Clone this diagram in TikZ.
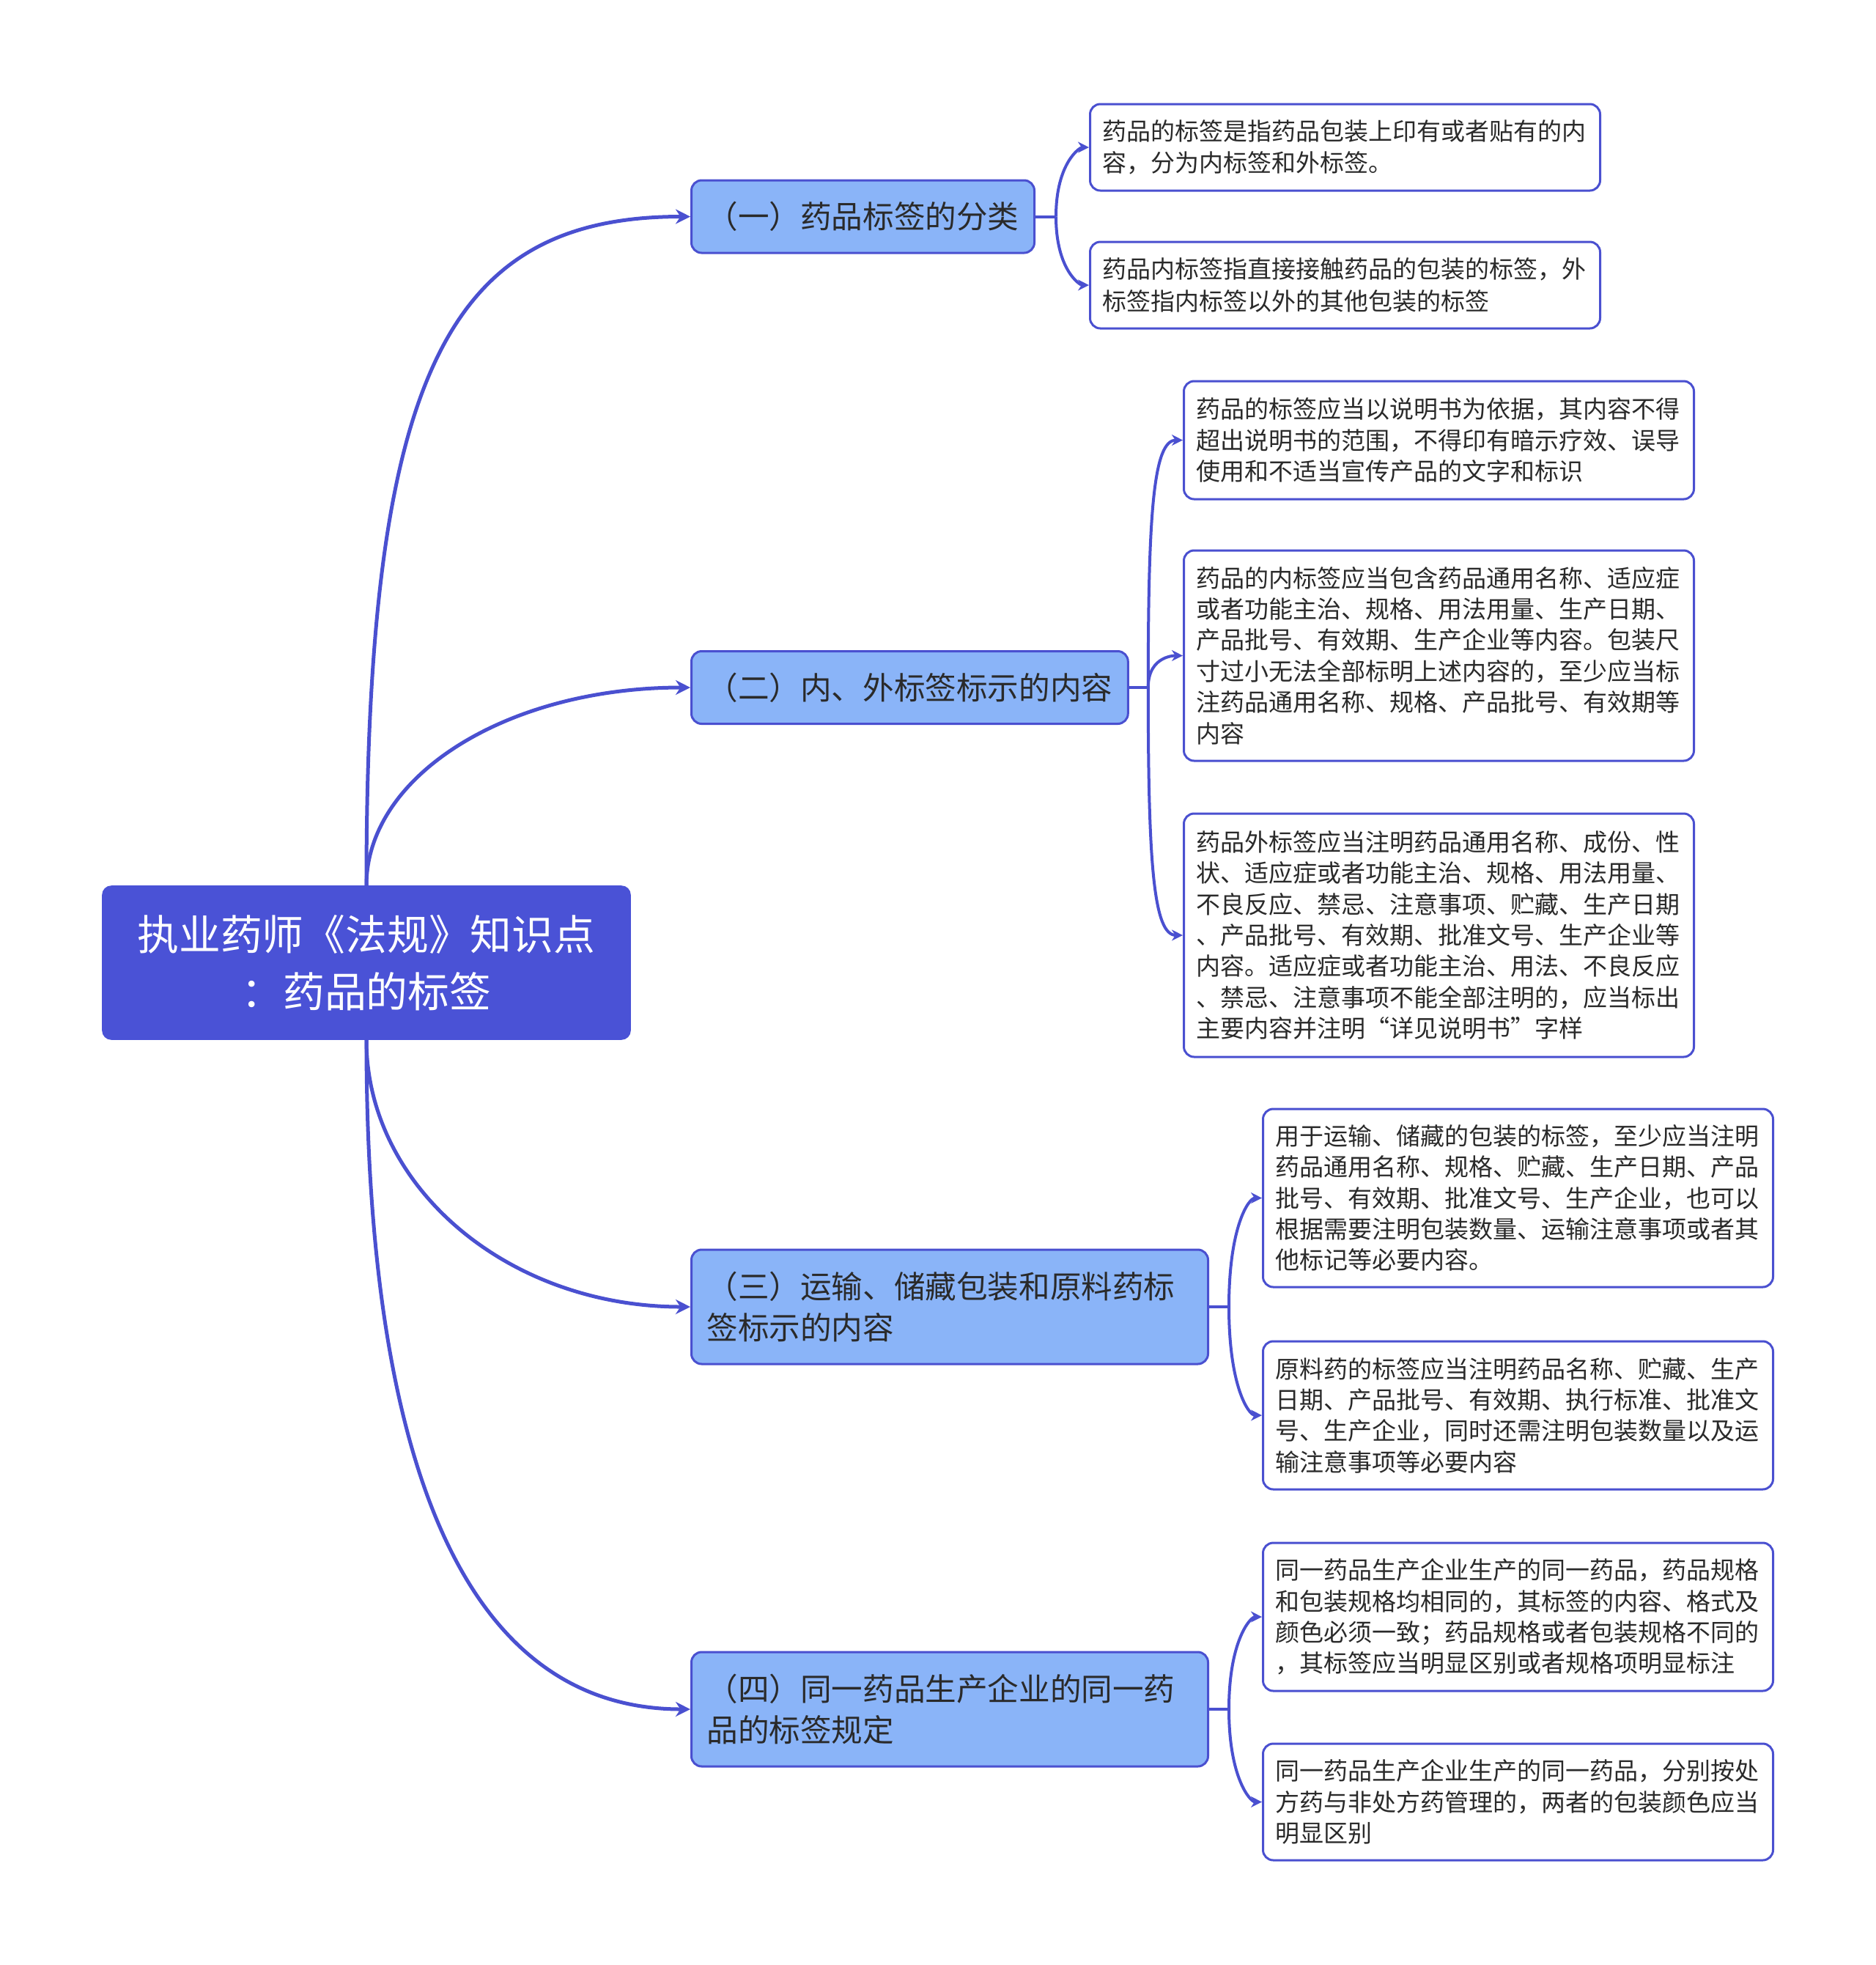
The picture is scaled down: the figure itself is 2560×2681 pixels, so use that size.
\documentclass[tikz,border=0pt]{standalone}
\usepackage{fontspec}
\setmainfont{Noto Sans CJK SC}
\usetikzlibrary{arrows.meta}
\definecolor{rootblue}{HTML}{4A52D6}
\definecolor{topicblue}{HTML}{8AB4F8}
\definecolor{edgeblue}{HTML}{4A50D0}
\definecolor{textgray}{HTML}{2A2A2A}

\begin{document}
\begin{tikzpicture}[
    x=0.25pt, y=-0.25pt,
    rootbox/.style={fill=rootblue, draw=rootblue, rounded corners=3pt, text=white, align=center,
      minimum width=180pt, minimum height=52.25pt, font=\fontsize{14.2}{19.5}\selectfont},
    topic/.style={fill=topicblue, draw=edgeblue, line width=0.75pt, rounded corners=3.5pt, text=textgray,
      anchor=west, inner xsep=5.25pt, minimum height=24.75pt, font=\fontsize{10.65}{14.2}\selectfont},
    longtopic/.style={topic, align=left, text width=165.75pt, minimum height=39pt},
    leaf/.style={fill=white, draw=edgeblue, line width=0.75pt, rounded corners=3.5pt, text=textgray,
      anchor=west, align=left, text width=165.5pt, inner xsep=4.25pt, font=\fontsize{8.25}{10.6}\selectfont},
    branch/.style={draw=edgeblue, line width=1.25pt, -{Stealth[length=5pt,width=5pt]}},
    link/.style={draw=edgeblue, line width=1pt},
    leafarrow/.style={link, -{Stealth[length=3.75pt,width=3.75pt]}, out looseness=1.8, in looseness=0.3}
  ]
    \useasboundingbox (0,0) rectangle (2560,2681);

    % centre topic
    \node[rootbox] (root) at (500,1313.5) {执业药师《法规》知识点\\：药品的标签};

    % main branches
    \node[topic] (kinds) at (942,295.5) {（一）药品标签的分类};
    \node[topic] (content) at (942,938) {（二）内、外标签标示的内容};
    \node[longtopic] (transport) at (942,1783) {（三）运输、储藏包装和原料药标\\签标示的内容};
    \node[longtopic] (same) at (942,2332) {（四）同一药品生产企业的同一药\\品的标签规定};

    % details
    \node[leaf, minimum height=29.5pt, font=\fontsize{8.25}{10.8}\selectfont] (kinds1) at (1486,201)
      {药品的标签是指药品包装上印有或者贴有的内\\容，分为内标签和外标签。};
    \node[leaf, minimum height=29.5pt, font=\fontsize{8.25}{10.8}\selectfont] (kinds2) at (1486,389)
      {药品内标签指直接接触药品的包装的标签，外\\标签指内标签以外的其他包装的标签};

    \node[leaf, minimum height=40.25pt] (content1) at (1614,600.5)
      {药品的标签应当以说明书为依据，其内容不得\\超出说明书的范围，不得印有暗示疗效、误导\\使用和不适当宣传产品的文字和标识};
    \node[leaf, minimum height=71.75pt] (content2) at (1614,894.5)
      {药品的内标签应当包含药品通用名称、适应症\\或者功能主治、规格、用法用量、生产日期、\\产品批号、有效期、生产企业等内容。包装尺\\寸过小无法全部标明上述内容的，至少应当标\\注药品通用名称、规格、产品批号、有效期等\\内容};
    \node[leaf, minimum height=83pt] (content3) at (1614,1276)
      {药品外标签应当注明药品通用名称、成份、性\\状、适应症或者功能主治、规格、用法用量、\\不良反应、禁忌、注意事项、贮藏、生产日期\\、产品批号、有效期、批准文号、生产企业等\\内容。适应症或者功能主治、用法、不良反应\\、禁忌、注意事项不能全部注明的，应当标出\\主要内容并注明“详见说明书”字样};

    \node[leaf, minimum height=60.75pt] (transport1) at (1722,1634.5)
      {用于运输、储藏的包装的标签，至少应当注明\\药品通用名称、规格、贮藏、生产日期、产品\\批号、有效期、批准文号、生产企业，也可以\\根据需要注明包装数量、运输注意事项或者其\\他标记等必要内容。};
    \node[leaf, minimum height=50.5pt] (transport2) at (1722,1931)
      {原料药的标签应当注明药品名称、贮藏、生产\\日期、产品批号、有效期、执行标准、批准文\\号、生产企业，同时还需注明包装数量以及运\\输注意事项等必要内容};

    \node[leaf, minimum height=50.5pt] (same1) at (1722,2206)
      {同一药品生产企业生产的同一药品，药品规格\\和包装规格均相同的，其标签的内容、格式及\\颜色必须一致；药品规格或者包装规格不同的\\，其标签应当明显区别或者规格项明显标注};
    \node[leaf, minimum height=39.75pt] (same2) at (1722,2458.5)
      {同一药品生产企业生产的同一药品，分别按处\\方药与非处方药管理的，两者的包装颜色应当\\明显区别};

    % root to branches
    \draw[branch] (root.north) .. controls +(0,-700) and +(-330,0) .. (kinds.west);
    \draw[branch] (root.north) .. controls +(0,-150) and +(-250,0) .. (content.west);
    \draw[branch] (root.south) .. controls +(0,200) and +(-250,0) .. (transport.west);
    \draw[branch] (root.south) .. controls +(0,550) and +(-320,0) .. (same.west);

    % branches to details
    \draw[link] (kinds.east) -- ++(28,0) coordinate (kindsfork);
    \draw[leafarrow] (kindsfork) to[out=90,in=180] (kinds1.west);
    \draw[leafarrow] (kindsfork) to[out=-90,in=180] (kinds2.west);

    \draw[link] (content.east) -- ++(26,0) coordinate (contentfork);
    \draw[leafarrow] (contentfork) to[out=90,in=180] (content1.west);
    \draw[leafarrow] (contentfork) to[out=90,in=180] (content2.west);
    \draw[leafarrow] (contentfork) to[out=-90,in=180] (content3.west);

    \draw[link] (transport.east) -- ++(27,0) coordinate (transportfork);
    \draw[leafarrow] (transportfork) to[out=90,in=180] (transport1.west);
    \draw[leafarrow] (transportfork) to[out=-90,in=180] (transport2.west);

    \draw[link] (same.east) -- ++(27,0) coordinate (samefork);
    \draw[leafarrow] (samefork) to[out=90,in=180] (same1.west);
    \draw[leafarrow] (samefork) to[out=-90,in=180] (same2.west);
  \end{tikzpicture}
\end{document}
